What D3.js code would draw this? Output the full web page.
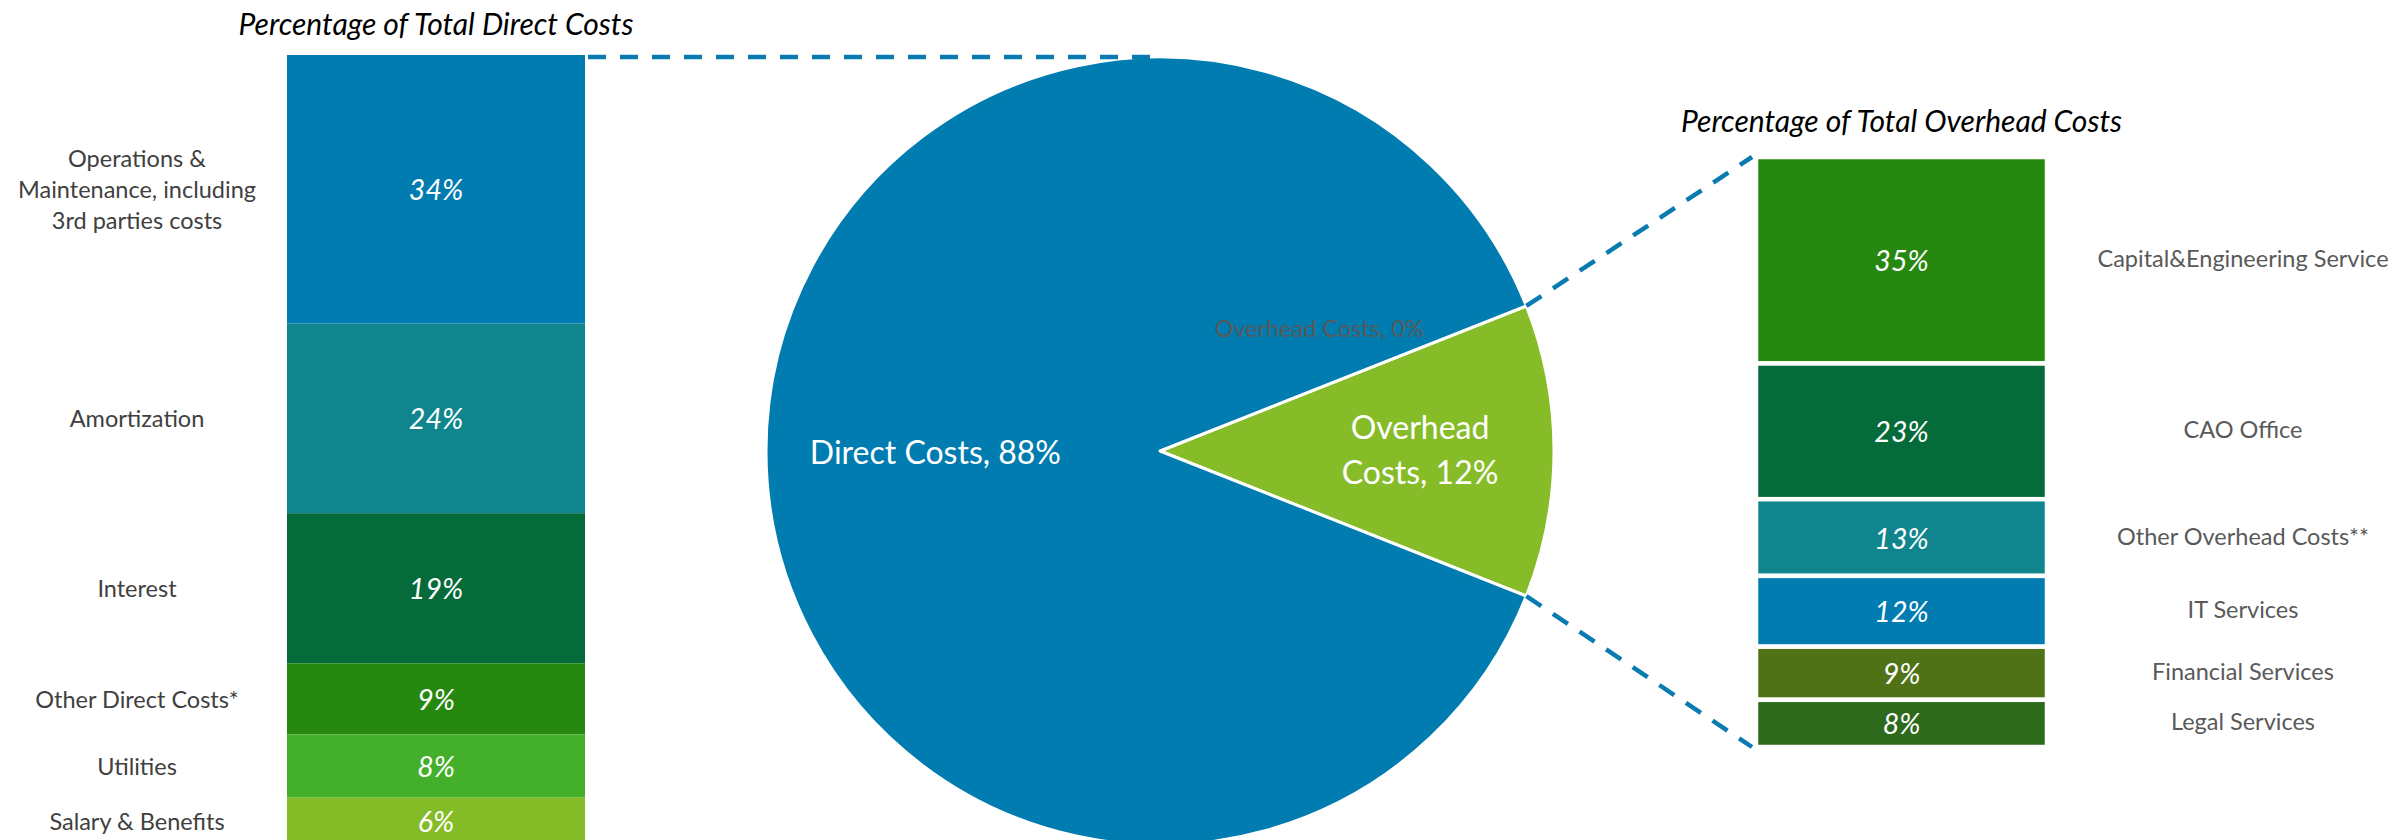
<!DOCTYPE html>
<html>
<head>
<meta charset="utf-8">
<script src="https://cdn.jsdelivr.net/npm/d3@7"></script>
<style>
  html, body { margin: 0; padding: 0; background: #ffffff; }
  svg { display: block; font-family: Lato, "Open Sans", sans-serif; }
</style>
</head>
<body>
<svg id="chart" width="2394" height="840"></svg>
<script>
// ---- data ----
const pieLabels = ["Overhead Costs", "Overhead Costs", "Direct Costs"];
const pieValues = [0, 12, 88];

const directCategories = ["Operations &\nMaintenance, including\n3rd parties costs", "Amortization", "Interest", "Other Direct Costs*", "Utilities", "Salary & Benefits"];
const directValues = [34, 24, 19, 9, 8, 6];

const overheadCategories = ["Capital&Engineering Service", "CAO Office", "Other Overhead Costs**", "IT Services", "Financial Services", "Legal Services"];
const overheadValues = [35, 23, 13, 12, 9, 8];

const directTitle = "Percentage of Total Direct Costs";
const overheadTitle = "Percentage of Total Overhead Costs";

// ---- styling ----
const directColors = ["#007CB0", "#10858E", "#066B3A", "#27880F", "#43AF2A", "#84BC27"];
const overheadColors = ["#27880F", "#066B3A", "#10858E", "#007CB0", "#507217", "#2D6A1C"];
const pieColors = ["#86BC28", "#86BC28", "#007CB0"];
const connectorColor = "#0A7BB0";

const svg = d3.select("#chart");

// ---- layout ----
const pieCx = 1160, pieCy = 451, pieR = 394;
const leftX0 = 287, leftX1 = 585;
const rightX0 = 1756, rightX1 = 2047;

const yLeft = d3.scaleLinear().domain([0, d3.sum(directValues)]).range([55, 845]);
const yRight = d3.scaleLinear().domain([0, d3.sum(overheadValues)]).range([157, 747]);

function stack(values) {
  const ends = d3.cumsum(values);
  return values.map((v, i) => ({ v, i, y0: ends[i] - v, y1: ends[i] }));
}

// ---- pie ----
const overheadShare = pieValues[1] / d3.sum(pieValues);
const pie = d3.pie().sort(null).value(d => d)
  .startAngle(Math.PI / 2 - overheadShare * Math.PI)
  .endAngle(Math.PI / 2 - overheadShare * Math.PI + 2 * Math.PI);
const arcs = pie(pieValues);
const arc = d3.arc().innerRadius(0).outerRadius(pieR);

const pieG = svg.append("g").attr("transform", `translate(${pieCx},${pieCy})`);
pieG.selectAll("path.slice")
  .data(arcs.filter(a => a.value > 0))
  .join("path")
  .attr("class", "slice")
  .attr("d", arc)
  .attr("fill", d => pieColors[d.index])
  .attr("stroke", "#ffffff")
  .attr("stroke-width", 3)
  .attr("stroke-linejoin", "round");

function polar(angle, r) {
  return [r * Math.sin(angle), -r * Math.cos(angle)];
}

// direct costs label
{
  const a = arcs[2];
  const [x, y] = polar((a.startAngle + a.endAngle) / 2, pieR * 0.57);
  pieG.append("text")
    .attr("x", x).attr("y", y)
    .attr("text-anchor", "middle").attr("dominant-baseline", "central")
    .attr("fill", "#ffffff").attr("font-size", 32)
    .text(`${pieLabels[2]}, ${pieValues[2]}%`);
}
// overhead costs label (two lines)
{
  const a = arcs[1];
  const [x, y] = polar((a.startAngle + a.endAngle) / 2, pieR * 0.66);
  const words = pieLabels[1].split(" ");
  const t = pieG.append("text")
    .attr("text-anchor", "middle")
    .attr("fill", "#ffffff").attr("font-size", 32);
  t.append("tspan").attr("x", x).attr("y", y - 12).text(words[0]);
  t.append("tspan").attr("x", x).attr("y", y + 33).text(`${words[1]}, ${pieValues[1]}%`);
}
// zero-share slice label
{
  const a = arcs[0];
  const [x, y] = polar(a.startAngle, pieR * 0.72);
  pieG.append("text")
    .attr("x", x).attr("y", y - 10)
    .attr("text-anchor", "end")
    .attr("fill", "#595959").attr("font-size", 23.5)
    .text(`${pieLabels[0]}, ${pieValues[0]}%`);
}

// ---- connector lines ----
const conn = svg.append("g")
  .attr("stroke", connectorColor)
  .attr("stroke-width", 4.5)
  .attr("stroke-dasharray", "18,14")
  .attr("fill", "none");

const pieTop = [pieCx, pieCy - pieR];
conn.append("line")
  .attr("x1", leftX1 + 3).attr("y1", yLeft(0) + 2)
  .attr("x2", pieTop[0]).attr("y2", pieTop[1]);

const upper = polar(arcs[1].startAngle, pieR);
const lower = polar(arcs[1].endAngle, pieR);
conn.append("line")
  .attr("x1", pieCx + upper[0]).attr("y1", pieCy + upper[1])
  .attr("x2", rightX0 - 4).attr("y2", yRight(0));
conn.append("line")
  .attr("x1", pieCx + lower[0]).attr("y1", pieCy + lower[1])
  .attr("x2", rightX0 - 4).attr("y2", yRight(d3.sum(overheadValues)));

// ---- left stacked bar (direct costs) ----
const leftG = svg.append("g");
const leftStack = stack(directValues);
leftG.selectAll("rect")
  .data(leftStack)
  .join("rect")
  .attr("x", leftX0)
  .attr("width", leftX1 - leftX0)
  .attr("y", d => yLeft(d.y0))
  .attr("height", d => yLeft(d.y1) - yLeft(d.y0))
  .attr("fill", d => directColors[d.i]);

leftG.selectAll("text.pct")
  .data(leftStack)
  .join("text")
  .attr("class", "pct")
  .attr("x", (leftX0 + leftX1) / 2)
  .attr("y", d => (yLeft(d.y0) + yLeft(d.y1)) / 2)
  .attr("text-anchor", "middle")
  .attr("dominant-baseline", "central")
  .attr("font-style", "italic")
  .attr("font-size", 28.5)
  .attr("fill", "#ffffff")
  .text(d => `${d.v}%`);

leftG.selectAll("text.cat")
  .data(leftStack)
  .join("text")
  .attr("class", "cat")
  .attr("text-anchor", "middle")
  .attr("fill", "#404040")
  .attr("font-size", 23.5)
  .each(function (d) {
    const lines = directCategories[d.i].split("\n");
    const mid = (yLeft(d.y0) + yLeft(d.y1)) / 2;
    const lh = 31;
    d3.select(this).selectAll("tspan")
      .data(lines)
      .join("tspan")
      .attr("x", 137)
      .attr("y", (l, j) => mid + (j - (lines.length - 1) / 2) * lh)
      .attr("dominant-baseline", "central")
      .text(l => l);
  });

leftG.append("text")
  .attr("x", (leftX0 + leftX1) / 2)
  .attr("y", 35)
  .attr("text-anchor", "middle")
  .attr("font-style", "italic")
  .attr("font-size", 30)
  .attr("fill", "#000000")
  .text(directTitle);

// ---- right stacked bar (overhead costs) ----
const rightG = svg.append("g");
const rightStack = stack(overheadValues);
rightG.selectAll("rect")
  .data(rightStack)
  .join("rect")
  .attr("x", rightX0)
  .attr("width", rightX1 - rightX0)
  .attr("y", d => yRight(d.y0))
  .attr("height", d => yRight(d.y1) - yRight(d.y0))
  .attr("fill", d => overheadColors[d.i])
  .attr("stroke", "#ffffff")
  .attr("stroke-width", 4.5);

rightG.selectAll("text.pct")
  .data(rightStack)
  .join("text")
  .attr("class", "pct")
  .attr("x", (rightX0 + rightX1) / 2)
  .attr("y", d => (yRight(d.y0) + yRight(d.y1)) / 2)
  .attr("text-anchor", "middle")
  .attr("dominant-baseline", "central")
  .attr("font-style", "italic")
  .attr("font-size", 28.5)
  .attr("fill", "#ffffff")
  .text(d => `${d.v}%`);

rightG.selectAll("text.cat")
  .data(rightStack)
  .join("text")
  .attr("class", "cat")
  .attr("x", 2243)
  .attr("y", d => (yRight(d.y0) + yRight(d.y1)) / 2 - 2)
  .attr("text-anchor", "middle")
  .attr("dominant-baseline", "central")
  .attr("fill", "#595959")
  .attr("font-size", 23.5)
  .text(d => overheadCategories[d.i]);

rightG.append("text")
  .attr("x", (rightX0 + rightX1) / 2)
  .attr("y", 132)
  .attr("text-anchor", "middle")
  .attr("font-style", "italic")
  .attr("font-size", 30)
  .attr("fill", "#000000")
  .text(overheadTitle);
</script>
</body>
</html>
